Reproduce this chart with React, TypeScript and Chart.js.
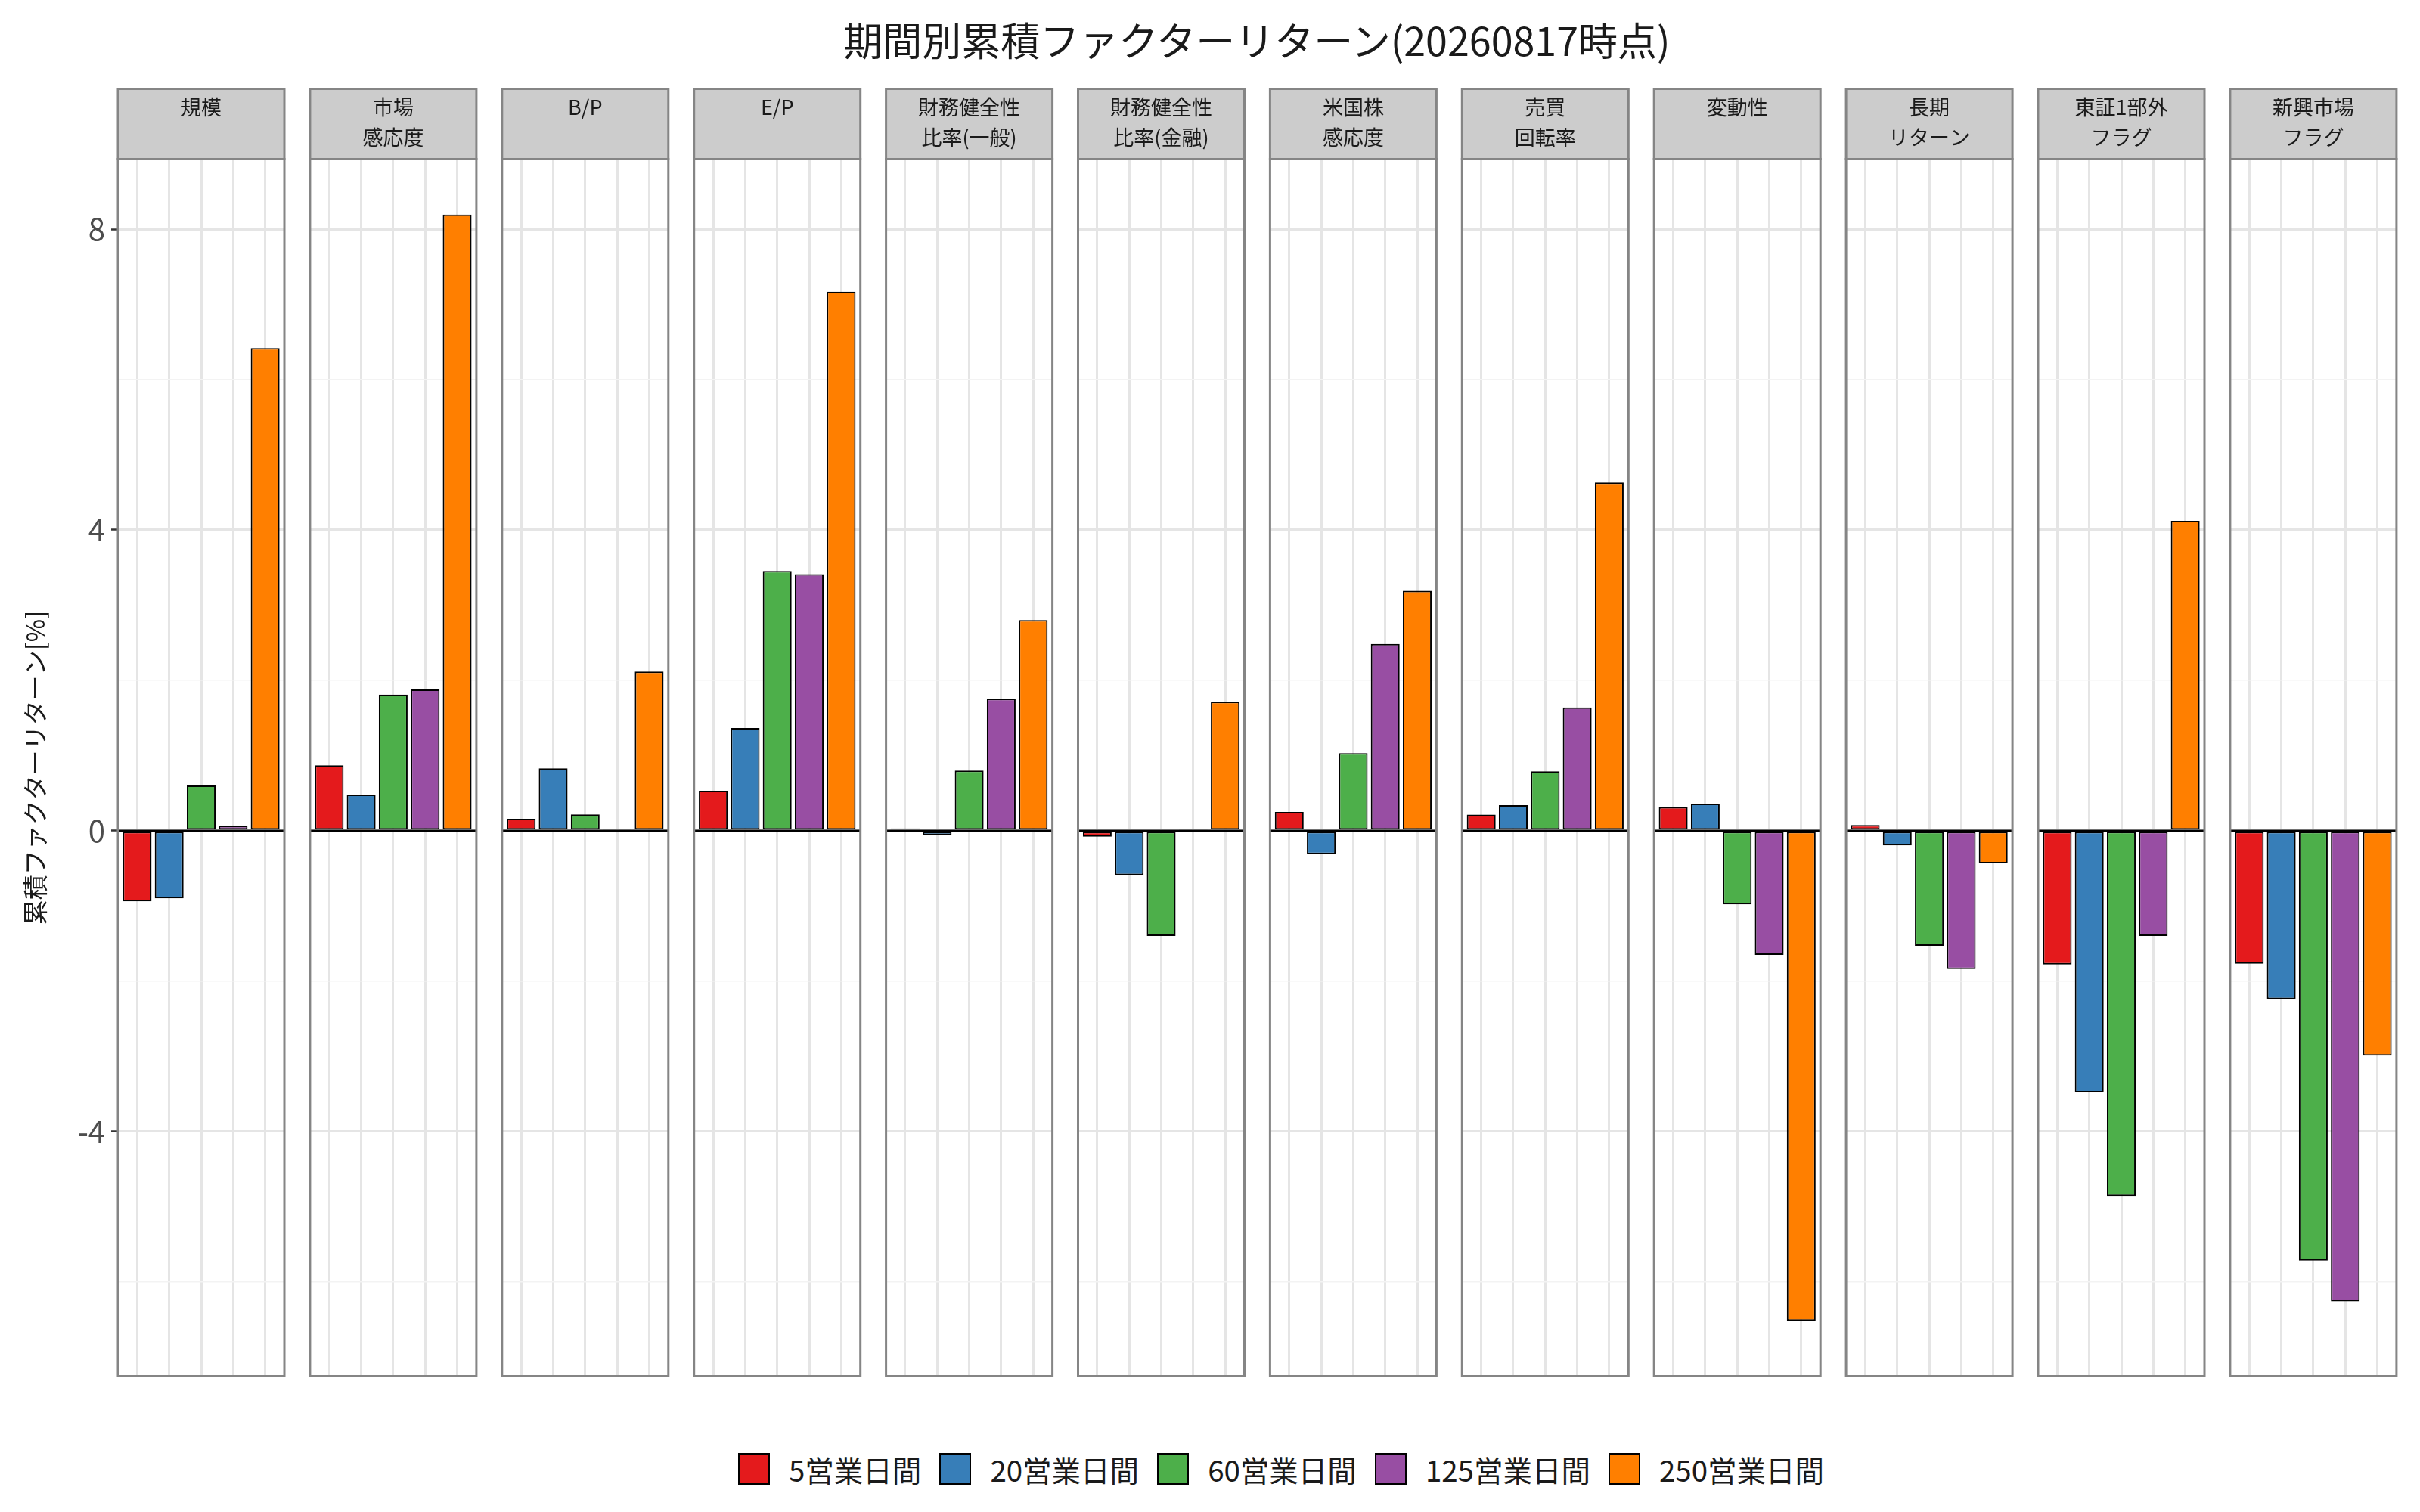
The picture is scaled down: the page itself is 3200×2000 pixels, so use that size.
import React, { useEffect, useRef } from 'react';
import { Chart, registerables } from 'chart.js';

Chart.register(...registerables);

// ---------------- data ----------------
const TITLE = '期間別累積ファクターリターン(20260817時点)';
const Y_TITLE = '累積ファクターリターン[%]';
const FACTORS = [
  '規模',
  '市場\n感応度',
  'B/P',
  'E/P',
  '財務健全性\n比率(一般)',
  '財務健全性\n比率(金融)',
  '米国株\n感応度',
  '売買\n回転率',
  '変動性',
  '長期\nリターン',
  '東証1部外\nフラグ',
  '新興市場\nフラグ',
];
const PERIODS = ['5営業日間', '20営業日間', '60営業日間', '125営業日間', '250営業日間'];
const COLORS = ['#E41A1C', '#377EB8', '#4DAF4A', '#984EA3', '#FF7F00'];

const RET_5 = [-0.94, 0.87, 0.16, 0.53, 0.03, -0.08, 0.25, 0.215, 0.315, 0.076, -1.78, -1.77];
const RET_20 = [-0.9, 0.48, 0.83, 1.365, -0.06, -0.59, -0.31, 0.34, 0.36, -0.196, -3.48, -2.24];
const RET_60 = [0.6, 1.81, 0.217, 3.454, 0.8, -1.4, 1.03, 0.79, -0.98, -1.53, -4.86, -5.72];
const RET_125 = [0.067, 1.877, 0.02, 3.41, 1.754, 0.023, 2.485, 1.64, -1.65, -1.84, -1.4, -6.26];
const RET_250 = [6.42, 8.195, 2.117, 7.17, 2.8, 1.715, 3.19, 4.63, -6.52, -0.435, 4.12, -2.99];
const SERIES = [RET_5, RET_20, RET_60, RET_125, RET_250];

const X_POSITIONS = [1, 2, 3, 4, 5];
const Y_GRID = [-6, -4, -2, 0, 2, 4, 6, 8];
const Y_LABELED = [-4, 0, 4, 8];

// ---------------- style / layout ----------------
const FONT = '"Noto Sans CJK JP", "Noto Sans", sans-serif';
const GRID_MAJOR = '#E5E5E5';
const GRID_MINOR = '#F3F3F3';
const BORDER = '#858585';
const STRIP_BG = '#CCCCCC';
const TEXT_DARK = '#1A1A1A';

const PANEL_LEFT0 = 156;
const PANEL_PITCH = 253.9;
const PANEL_W = 220;
const STRIP_TOP = 117.5;
const PLOT_TOP = 210.5;
const PLOT_BOTTOM = 1820.5;
const EDGE = 5;

const allVals = SERIES.flat();
const dMin = Math.min(...allVals);
const dMax = Math.max(...allVals);
const pad = (dMax - dMin) * 0.05;
const Y_MIN = dMin - pad;
const Y_MAX = dMax + pad;
const X_MIN = 0.4;
const X_MAX = 5.6;

const isMajor = (v: any) => Y_LABELED.includes(v);

const panelPlugin = {
  id: 'panelDeco',
  beforeDraw(chart: any, _args: any, opts: any) {
    const { ctx, chartArea } = chart;
    const top = chartArea.top - (PLOT_TOP - STRIP_TOP);
    const w = chartArea.right - chartArea.left;
    const h = PLOT_TOP - STRIP_TOP;
    ctx.save();
    ctx.fillStyle = STRIP_BG;
    ctx.fillRect(chartArea.left, top, w, h);
    ctx.strokeStyle = BORDER;
    ctx.lineWidth = 3;
    ctx.strokeRect(chartArea.left, top, w, h);
    ctx.fillStyle = TEXT_DARK;
    ctx.font = `27px ${FONT}`;
    ctx.textAlign = 'center';
    ctx.textBaseline = 'middle';
    const lines: string[] = opts.lines || [];
    const cx = (chartArea.left + chartArea.right) / 2;
    lines.forEach((ln, k) => {
      ctx.fillText(ln, cx, top + 24 + k * 40.5);
    });
    ctx.restore();
  },
  afterDatasetsDraw(chart: any) {
    const { ctx, chartArea, scales } = chart;
    const y0 = scales.y.getPixelForValue(0);
    ctx.save();
    ctx.strokeStyle = '#000000';
    ctx.lineWidth = 2.5;
    ctx.beginPath();
    ctx.moveTo(chartArea.left, y0);
    ctx.lineTo(chartArea.right, y0);
    ctx.stroke();
    ctx.restore();
  },
  afterDraw(chart: any) {
    const { ctx, chartArea } = chart;
    ctx.save();
    ctx.strokeStyle = BORDER;
    ctx.lineWidth = 3;
    ctx.strokeRect(chartArea.left, chartArea.top, chartArea.right - chartArea.left, chartArea.bottom - chartArea.top);
    ctx.restore();
  },
};

function geometry(i: number) {
  const first = i === 0;
  const left = PANEL_LEFT0 + i * PANEL_PITCH;
  const right = left + PANEL_W;
  const canvasLeft = first ? 0 : Math.floor(left - EDGE);
  const canvasRight = Math.ceil(right + EDGE);
  const canvasTop = Math.floor(STRIP_TOP - EDGE);
  const canvasBottom = Math.ceil(PLOT_BOTTOM + EDGE);
  return {
    first,
    canvasLeft,
    canvasTop,
    width: canvasRight - canvasLeft,
    height: canvasBottom - canvasTop,
    padLeft: first ? 0 : left - canvasLeft,
    padRight: canvasRight - right,
    padTop: PLOT_TOP - canvasTop,
    padBottom: canvasBottom - PLOT_BOTTOM,
    axisWidth: first ? left - canvasLeft : 0,
  };
}

function Panel({ index }: { index: number }) {
  const ref = useRef<HTMLCanvasElement>(null);
  const g = geometry(index);
  useEffect(() => {
    if (!ref.current) return;
    const chart = new Chart(ref.current, {
      type: 'bar',
      data: {
        datasets: [
          {
            data: X_POSITIONS.map((x, k) => ({ x, y: SERIES[k][index] })),
            backgroundColor: COLORS,
            borderColor: '#000000',
            borderWidth: 2,
            borderSkipped: false,
            barPercentage: 0.9,
            categoryPercentage: 1.0,
          } as any,
        ],
      },
      options: {
        responsive: false,
        maintainAspectRatio: false,
        devicePixelRatio: 1,
        animation: false,
        events: [],
        layout: { padding: { left: g.padLeft, right: g.padRight, top: g.padTop, bottom: g.padBottom } },
        plugins: {
          legend: { display: false },
          tooltip: { enabled: false },
          title: { display: false },
          panelDeco: { lines: FACTORS[index].split('\n') },
        } as any,
        scales: {
          x: {
            type: 'linear',
            min: X_MIN,
            max: X_MAX,
            offset: false,
            afterBuildTicks: (s: any) => {
              s.ticks = X_POSITIONS.map((v) => ({ value: v }));
            },
            afterFit: (s: any) => {
              s.height = 0;
              s.paddingLeft = 0;
              s.paddingRight = 0;
            },
            border: { display: false },
            grid: { offset: false, color: GRID_MAJOR, lineWidth: 3, drawTicks: false },
            ticks: { display: false },
          },
          y: {
            type: 'linear',
            min: Y_MIN,
            max: Y_MAX,
            afterBuildTicks: (s: any) => {
              s.ticks = Y_GRID.map((v) => ({ value: v }));
            },
            afterFit: (s: any) => {
              s.width = g.axisWidth;
              s.paddingTop = 0;
              s.paddingBottom = 0;
            },
            border: { display: false },
            grid: {
              color: (c: any) => (isMajor(c.tick && c.tick.value) ? GRID_MAJOR : GRID_MINOR),
              lineWidth: (c: any) => (isMajor(c.tick && c.tick.value) ? 3 : 1.5),
              drawTicks: g.first,
              tickLength: 9,
              tickWidth: 2.5,
              tickColor: (c: any) => (isMajor(c.tick && c.tick.value) ? '#333333' : 'rgba(0,0,0,0)'),
            },
            ticks: {
              display: g.first,
              padding: 8,
              color: '#4D4D4D',
              font: { family: FONT, size: 40 },
              callback: (v: any) => (isMajor(v) ? String(v) : ''),
            },
            title: {
              display: g.first,
              text: Y_TITLE,
              color: TEXT_DARK,
              font: { family: FONT, size: 33 },
              padding: { top: 27, bottom: 0 },
            },
          },
        },
      } as any,
      plugins: [panelPlugin as any],
    });
    return () => chart.destroy();
  }, [index]);
  return (
    <canvas
      ref={ref}
      width={g.width}
      height={g.height}
      style={{ position: 'absolute', left: g.canvasLeft, top: g.canvasTop, width: g.width, height: g.height }}
    />
  );
}

export default function App() {
  useEffect(() => {
    document.body.style.margin = '0';
  }, []);
  return (
    <div
      style={{
        position: 'absolute',
        left: 0,
        top: 0,
        width: 3200,
        height: 2000,
        background: '#ffffff',
        overflow: 'hidden',
        fontFamily: FONT,
      }}
    >
      <div
        style={{
          position: 'absolute',
          left: 662,
          top: 21,
          width: 2000,
          textAlign: 'center',
          fontSize: 52,
          lineHeight: '62px',
          color: TEXT_DARK,
          whiteSpace: 'nowrap',
        }}
      >
        {TITLE}
      </div>
      {FACTORS.map((_, i) => (
        <Panel key={i} index={i} />
      ))}
      <div
        style={{
          position: 'absolute',
          left: 976,
          top: 1922,
          height: 42,
          display: 'flex',
          alignItems: 'center',
          whiteSpace: 'nowrap',
        }}
      >
        {PERIODS.map((p, k) => (
          <div key={p} style={{ display: 'flex', alignItems: 'center', marginRight: 24 }}>
            <div
              style={{
                width: 42,
                height: 42,
                boxSizing: 'border-box',
                background: COLORS[k],
                border: '2px solid #000000',
              }}
            />
            <div style={{ marginLeft: 25, fontSize: 38.5, lineHeight: '42px', color: TEXT_DARK }}>{p}</div>
          </div>
        ))}
      </div>
    </div>
  );
}
